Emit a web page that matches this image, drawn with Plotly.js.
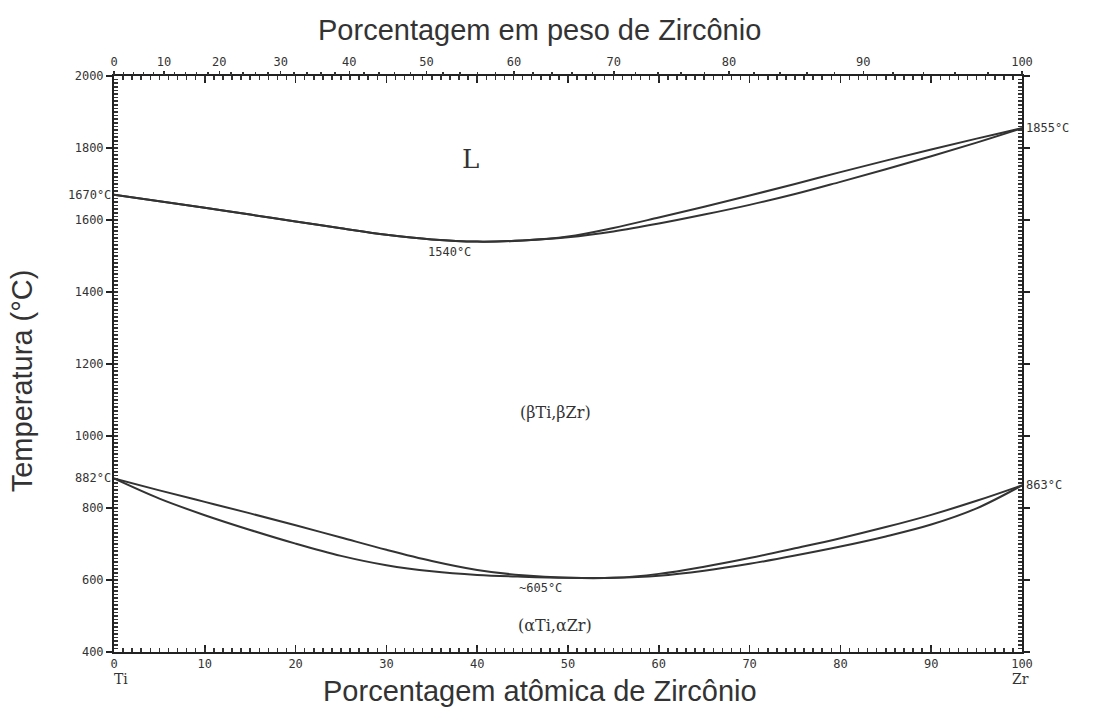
<!DOCTYPE html>
<html>
<head>
<meta charset="utf-8">
<script src="https://cdn.plot.ly/plotly-3.0.1.min.js"></script>
<style>html,body{margin:0;padding:0;background:#fff;}#chart{width:1093px;height:713px;}</style>
</head>
<body>
<div id="chart"></div>
<script>
// Composition (atomic % Zr)
var atPct = [0,5,10,15,20,25,30,35,40,45,50,55,60,65,70,75,80,85,90,95,100];
// Liquidus and solidus (°C)
var liquidus = [1670,1652,1634,1615,1596,1577,1559,1546,1540,1543,1554,1578,1607,1637,1668,1700,1733,1765,1796,1826,1855];
var solidus  = [1670,1652,1634,1615,1596,1577,1559,1546,1540,1543,1552,1568,1590,1615,1642,1672,1706,1741,1777,1815,1855];
// beta transus (upper) and alpha transus (lower) (°C)
var betaTransus  = [882,849,817,785,752,718,684,653,628,613,606,606,617,637,661,688,716,747,781,820,863];
var alphaTransus = [882,826,780,739,701,667,641,624,614,609,606,606,612,626,645,668,693,721,754,799,863];
// Axis tick labels
var atTicks = [0,10,20,30,40,50,60,70,80,90,100];
var yTicks = [400,600,800,1000,1200,1400,1600,1800,2000];
var wtTicks = [0,10,20,30,40,50,60,70,80,90,100];
var M_ZR = 91.224, M_TI = 47.867;
function wtToAt(w){ if(w<=0) return 0; if(w>=100) return 100; var a=w/M_ZR, b=(100-w)/M_TI; return 100*a/(a+b); }
var wtPos = wtTicks.map(wtToAt);
var wtMinor = []; for (var w=0; w<=100; w+=2) wtMinor.push(wtToAt(w));
var atMinor = []; for (var i=0; i<=100; i+=1) atMinor.push(i);
var yMinor = []; for (var t=400; t<=2000; t+=10) yMinor.push(t);

var lineStyle = {color:'#333', width:2, shape:'spline', smoothing:1};
function ghost(xa, ya, xs, ys){ return {x:xs, y:ys, xaxis:xa, yaxis:ya, mode:'markers', marker:{opacity:0}, hoverinfo:'skip'}; }
var traces = [
  {x: atPct, y: liquidus, mode:'lines', line: lineStyle, hoverinfo:'skip'},
  {x: atPct, y: solidus, mode:'lines', line: lineStyle, hoverinfo:'skip'},
  {x: atPct, y: betaTransus, mode:'lines', line: lineStyle, hoverinfo:'skip'},
  {x: atPct, y: alphaTransus, mode:'lines', line: lineStyle, hoverinfo:'skip'},
  ghost('x2','y',[50],[1000]),
  ghost('x3','y',[50],[1000]),
  ghost('x4','y',[50],[1000]),
  ghost('x','y2',[50],[1000])
];

var tickFont = {family:'DejaVu Sans Mono, Liberation Mono, monospace', size:12, color:'#333'};
var titleFont = {family:'Liberation Sans, Arial, sans-serif', size:29, color:'#333'};
var serif = 'DejaVu Serif, Liberation Serif, serif';
var base = {showgrid:false, zeroline:false};

var layout = {
  width:1093, height:713,
  margin:{l:114, r:71, t:76, b:61},
  paper_bgcolor:'#fff', plot_bgcolor:'#fff',
  showlegend:false,
  xaxis:Object.assign({}, base, {
    range:[0,100], showline:true, linecolor:'#222', linewidth:2, mirror:'ticks',
    tickmode:'array', tickvals:atTicks, ticktext:atTicks.map(String),
    ticks:'inside', ticklen:7, tickwidth:1.5, tickcolor:'#222',
    tickfont:tickFont
  }),
  xaxis4:Object.assign({}, base, {
    overlaying:'x', side:'bottom', anchor:'y', range:[0,100], showline:false, mirror:'ticks',
    tickmode:'array', tickvals:atMinor, showticklabels:false,
    ticks:'inside', ticklen:4, tickwidth:1.5, tickcolor:'#333'
  }),
  xaxis2:Object.assign({}, base, {
    overlaying:'x', side:'top', anchor:'y', range:[0,100], showline:false,
    tickmode:'array', tickvals:wtPos, ticktext:wtTicks.map(String),
    ticks:'outside', ticklen:4, tickwidth:1.5, tickcolor:'#222',
    tickfont:tickFont
  }),
  xaxis3:Object.assign({}, base, {
    overlaying:'x', side:'top', anchor:'y', range:[0,100], showline:false,
    tickmode:'array', tickvals:wtMinor, showticklabels:false,
    ticks:'outside', ticklen:3, tickwidth:1.5, tickcolor:'#333'
  }),
  yaxis:Object.assign({}, base, {
    range:[400,2000], showline:true, linecolor:'#222', linewidth:2, mirror:'ticks',
    tickmode:'array', tickvals:yTicks, ticktext:yTicks.map(String),
    ticks:'outside', ticklen:6, tickwidth:1.5, tickcolor:'#222',
    tickfont:tickFont
  }),
  yaxis2:Object.assign({}, base, {
    overlaying:'y', side:'left', anchor:'x', range:[400,2000], showline:false, mirror:'ticks',
    tickmode:'array', tickvals:yMinor, showticklabels:false,
    ticks:'inside', ticklen:4, tickwidth:1.5, tickcolor:'#333'
  }),
  annotations:[
    {x:0.469, y:1, xref:'paper', yref:'paper', yanchor:'bottom', yshift:28, text:'Porcentagem em peso de Zircônio', showarrow:false, font:titleFont},
    {x:0.469, y:0, xref:'paper', yref:'paper', yanchor:'top', yshift:-21, text:'Porcentagem atômica de Zircônio', showarrow:false, font:titleFont},
    {x:0, y:0.47, xref:'paper', yref:'paper', xanchor:'center', xshift:-92, text:'Temperatura (°C)', textangle:-90, showarrow:false, font:titleFont},
    {x:0, y:1670, xref:'x', yref:'y', text:'1670°C', showarrow:false, xanchor:'right', xshift:-1, font:tickFont},
    {x:100, y:1855, xref:'x', yref:'y', text:'1855°C', showarrow:false, xanchor:'left', xshift:2, font:tickFont},
    {x:0, y:882, xref:'x', yref:'y', text:'882°C', showarrow:false, xanchor:'right', xshift:-1, font:tickFont},
    {x:100, y:863, xref:'x', yref:'y', text:'863°C', showarrow:false, xanchor:'left', xshift:2, font:tickFont},
    {x:37, y:1540, xref:'x', yref:'y', text:'1540°C', showarrow:false, yanchor:'top', yshift:-1, font:tickFont},
    {x:47, y:605, xref:'x', yref:'y', text:'~605°C', showarrow:false, yanchor:'top', yshift:-1, font:tickFont},
    {x:39.3, y:1770, xref:'x', yref:'y', text:'L', showarrow:false, font:{family:serif, size:26, color:'#333'}},
    {x:48.6, y:1065, xref:'x', yref:'y', text:'(βTi,βZr)', showarrow:false, font:{family:serif, size:16, color:'#333'}},
    {x:48.6, y:475, xref:'x', yref:'y', text:'(αTi,αZr)', showarrow:false, font:{family:serif, size:16, color:'#333'}},
    {x:0.8, y:-0.03, xref:'x', yref:'paper', text:'Ti', showarrow:false, yanchor:'top', font:{family:serif, size:14, color:'#333'}},
    {x:99.8, y:-0.03, xref:'x', yref:'paper', text:'Zr', showarrow:false, yanchor:'top', font:{family:serif, size:14, color:'#333'}}
  ]
};
Plotly.newPlot('chart', traces, layout, {staticPlot:true, displayModeBar:false});
</script>
</body>
</html>
